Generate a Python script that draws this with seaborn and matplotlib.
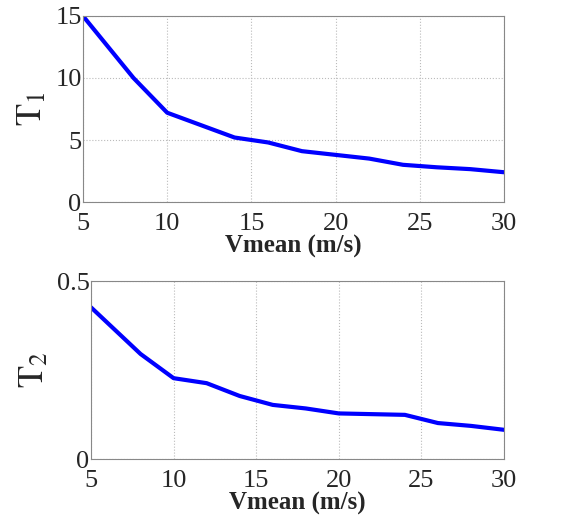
import matplotlib
matplotlib.use("Agg")
import matplotlib.pyplot as plt
import seaborn as sns
import pandas as pd

vmean = [5, 8, 10, 12, 14, 16, 18, 20, 22, 24, 26, 28, 30]
t1 = [15.0, 10.0, 7.2, 6.2, 5.2, 4.8, 4.1, 3.8, 3.5, 3.0, 2.8, 2.65, 2.4]
t2 = [0.426, 0.295, 0.227, 0.213, 0.177, 0.152, 0.142, 0.128, 0.126, 0.124, 0.101, 0.093, 0.082]
xticks = [5, 10, 15, 20, 25, 30]
t1_ticks = [0, 5, 10, 15]
t2_ticks = [0, 0.5]
t2_labels = ["0", "0.5"]

sns.set_theme(style="white")
plt.rcParams['font.family'] = ['Liberation Serif', 'DejaVu Serif']
plt.rcParams['mathtext.fontset'] = 'stix'

df = pd.DataFrame({"v": vmean, "t1": t1, "t2": t2})

fig = plt.figure(figsize=(5.68, 5.17), dpi=100)
W, H = 568, 517
ax1 = fig.add_axes([83 / W, 1 - 202 / H, (504 - 83) / W, (202 - 16) / H])
ax2 = fig.add_axes([91 / W, 1 - 459 / H, (504 - 91) / W, (459 - 281) / H])

for ax, col, yt, ylab, ylim, ytl in [
    (ax1, "t1", t1_ticks, r"$\mathrm{T}_1$", (0, 15), [str(v) for v in t1_ticks]),
    (ax2, "t2", t2_ticks, r"$\mathrm{T}_2$", (0, 0.5), t2_labels),
]:
    sns.lineplot(data=df, x="v", y=col, ax=ax, color="#0000ff", linewidth=3)
    ax.set_xlim(5, 30)
    ax.set_ylim(*ylim)
    ax.set_xticks(xticks)
    ax.set_xticklabels([str(v) for v in xticks])
    ax.set_yticks(yt)
    ax.set_yticklabels(ytl)
    ax.grid(True, linestyle=":", color="#bbbbbb", linewidth=0.8)
    ax.tick_params(direction="in", labelsize=19, length=4, color="#888888")
    ax.tick_params(axis="x", pad=8)
    ax.tick_params(axis="y", pad=1)
    for s in ax.spines.values():
        s.set_color("#888888")
        s.set_linewidth(0.8)
    ax.set_xlabel("Vmean (m/s)", fontsize=18, fontweight="bold", labelpad=0)
    ax.set_ylabel(ylab, fontsize=26, labelpad=4)

fig.savefig("out.png", dpi=100)
